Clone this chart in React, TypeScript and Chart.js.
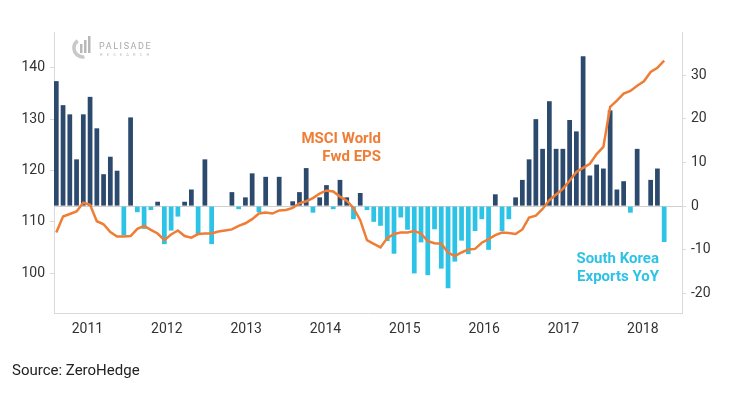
import React, { useEffect, useRef } from 'react';
import { Chart, registerables } from 'chart.js';

Chart.register(...registerables);

// Monthly series, Mar 2011 .. Sep 2018
const START_YEAR = 2011;
const START_MONTH = 3;

const exportsYoY: number[] = [
  // 2011 Mar-Dec
  28.6, 23.1, 21.0, 10.7, 21.0, 25.0, 17.8, 7.3, 11.3, 8.1,
  // 2012
  -6.7, 20.3, -1.4, -5.2, -0.9, 1.0, -8.7, -5.6, -2.4, 1.0, 3.8, -6.4,
  // 2013
  10.7, -8.7, 0.0, 0.0, 3.2, -0.7, 2.0, 7.5, -1.4, 6.7, 0.0, 6.7,
  // 2014
  0.0, 1.1, 3.2, 8.7, -1.5, 2.0, 4.8, -0.7, 6.0, 2.0, -3.0, 3.0,
  // 2015
  -0.9, -3.6, -4.5, -8.0, -10.9, -2.6, -5.4, -15.4, -8.3, -15.8, -5.3, -14.3,
  // 2016
  -18.8, -12.7, -7.9, -11.0, -5.7, -3.0, -10.0, 2.7, -5.7, -3.0, 2.0, 6.0,
  // 2017
  10.7, 19.9, 13.1, 24.0, 13.1, 13.1, 19.7, 17.1, 34.3, 7.0, 9.5, 8.6,
  // 2018 Jan-Sep
  21.9, 3.8, 5.7, -1.5, 13.1, 0.0, 6.0, 8.6, -8.2,
];

const msciFwdEps: number[] = [
  // 2011 Mar-Dec
  107.9, 111.0, 111.5, 112.0, 113.7, 113.3, 110.1, 109.5, 108.0, 107.1,
  // 2012
  107.1, 107.2, 108.6, 109.2, 108.4, 107.7, 106.4, 107.5, 108.3, 107.2, 106.9, 107.6,
  // 2013
  107.7, 107.7, 108.1, 108.3, 108.5, 109.2, 109.7, 110.5, 111.6, 111.8, 111.6, 112.2,
  // 2014
  112.3, 112.7, 113.6, 114.0, 114.6, 115.5, 116.1, 115.9, 114.9, 114.1, 112.7, 110.3,
  // 2015
  106.4, 105.7, 105.0, 106.8, 107.6, 107.9, 107.9, 108.2, 107.7, 106.2, 105.8, 105.7,
  // 2016
  104.0, 103.3, 104.0, 104.6, 104.7, 105.9, 106.6, 107.4, 107.9, 107.8, 107.6, 108.5,
  // 2017
  110.8, 111.2, 112.5, 114.2, 115.3, 116.4, 118.0, 119.7, 120.5, 121.3, 123.2, 124.6,
  // 2018 Jan-Sep
  132.4, 133.6, 135.0, 135.5, 136.5, 137.4, 139.2, 140.0, 141.4,
];

const months: string[] = exportsYoY.map((_, i) => {
  const m = START_MONTH - 1 + i;
  return `${START_YEAR + Math.floor(m / 12)}-${String((m % 12) + 1).padStart(2, '0')}`;
});

const yearLabels: number[] = [2011, 2012, 2013, 2014, 2015, 2016, 2017, 2018];
const leftTicks: number[] = [100, 110, 120, 130, 140];
const rightTicks: number[] = [-20, -10, 0, 10, 20, 30];

const NAVY = '#2c4a6d';
const CYAN = '#2cc3e6';
const ORANGE = '#f07d35';
const AXIS = '#d9d9d9';
const TICK_TEXT = '#333333';

const overlayPlugin = {
  id: 'overlayText',
  afterDraw(chart: any) {
    const { ctx, chartArea } = chart;
    ctx.save();
    // Series annotations
    ctx.textAlign = 'right';
    ctx.textBaseline = 'middle';
    ctx.font = 'bold 15px Roboto';
    ctx.fillStyle = ORANGE;
    ctx.fillText('MSCI World', 381, 139);
    ctx.fillText('Fwd EPS', 381, 157);
    ctx.fillStyle = CYAN;
    ctx.fillText('South Korea', 659, 259);
    ctx.fillText('Exports YoY', 659, 277);

    // Logo
    const cx = chartArea.left + 29;
    const cy = 48;
    ctx.strokeStyle = '#c8c8c8';
    ctx.lineWidth = 3.5;
    ctx.beginPath();
    ctx.arc(cx, cy, 9, Math.PI * 0.45, Math.PI * 1.3);
    ctx.stroke();
    ctx.fillStyle = '#b8b8b8';
    ctx.fillRect(cx - 3, cy - 4, 2.5, 9);
    ctx.fillRect(cx + 1, cy - 8, 2.5, 13);
    ctx.fillRect(cx + 5, cy - 12, 2.5, 17);
    ctx.textAlign = 'left';
    ctx.textBaseline = 'alphabetic';
    ctx.fillStyle = '#a8a8a8';
    ctx.font = '9px Roboto';
    (ctx as any).letterSpacing = '1.6px';
    ctx.fillText('PALISADE', 99, 49);
    ctx.font = '4px Roboto';
    ctx.fillStyle = '#c0c0c0';
    (ctx as any).letterSpacing = '4.2px';
    ctx.fillText('RESEARCH', 100, 56);
    (ctx as any).letterSpacing = '0px';
    ctx.restore();
  },
};

export default function App() {
  const ref = useRef<HTMLCanvasElement | null>(null);

  useEffect(() => {
    if (!ref.current) return;
    Chart.defaults.font.family = 'Roboto';
    const chart = new Chart(ref.current, {
      type: 'bar',
      data: {
        labels: months,
        datasets: [
          {
            type: 'line',
            label: 'MSCI World Fwd EPS',
            data: msciFwdEps.map((v, i) => ({ x: i, y: v })),
            xAxisID: 'x',
            yAxisID: 'yL',
            borderColor: ORANGE,
            borderWidth: 2.5,
            pointRadius: 0,
            tension: 0,
            order: 0,
          } as any,
          {
            type: 'bar',
            label: 'South Korea Exports YoY',
            data: exportsYoY.map((v, i) => ({ x: i, y: v })),
            xAxisID: 'x',
            yAxisID: 'yR',
            backgroundColor: exportsYoY.map((v) => (v >= 0 ? NAVY : CYAN)),
            borderWidth: 0,
            categoryPercentage: 1,
            barPercentage: 0.7,
            order: 1,
          } as any,
        ],
      },
      options: {
        animation: false,
        responsive: false,
        maintainAspectRatio: false,
        layout: { padding: { top: 32, bottom: 0, left: 0, right: 0 } },
        plugins: {
          legend: { display: false },
          tooltip: { enabled: false },
        },
        scales: {
          x: {
            type: 'linear',
            display: false,
            min: -0.34,
            max: 92.64,
            offset: false,
            bounds: 'data',
          },
          years: {
            type: 'linear',
            position: 'bottom',
            min: 2011.078,
            max: 2018.994,
            offset: false,
            bounds: 'data',
            afterBuildTicks: (scale: any) => {
              scale.ticks = yearLabels.map((y) => ({ value: y + 0.5 }));
            },
            afterFit: (scale: any) => {
              scale.height = 86;
            },
            grid: { display: false, drawTicks: false },
            border: { display: true, color: AXIS, width: 1 },
            ticks: {
              autoSkip: false,
              maxRotation: 0,
              padding: 8,
              color: TICK_TEXT,
              font: { size: 14 },
              callback: (v: any) => String(Math.floor(Number(v))),
            },
          },
          yL: {
            type: 'linear',
            position: 'left',
            min: 92.2,
            max: 147,
            bounds: 'data',
            afterBuildTicks: (scale: any) => {
              scale.ticks = leftTicks.map((v) => ({ value: v }));
            },
            afterFit: (scale: any) => {
              scale.width = 54;
            },
            grid: { drawOnChartArea: false, drawTicks: true, tickLength: 4, color: AXIS },
            border: { display: true, color: AXIS, width: 1 },
            ticks: {
              padding: 5,
              color: TICK_TEXT,
              font: { size: 14 },
              callback: (v: any) => String(v),
            },
          },
          yR: {
            type: 'linear',
            position: 'right',
            min: -24.46,
            max: 39.84,
            bounds: 'data',
            afterBuildTicks: (scale: any) => {
              scale.ticks = rightTicks.map((v) => ({ value: v }));
            },
            afterFit: (scale: any) => {
              scale.width = 50;
            },
            grid: {
              drawOnChartArea: true,
              drawTicks: true,
              tickLength: 4,
              color: (c: any) => (c.tick && c.tick.value === 0 ? '#cfcfcf' : 'rgba(0,0,0,0)'),
              tickColor: AXIS,
            },
            border: { display: true, color: AXIS, width: 1 },
            ticks: {
              padding: 5,
              color: TICK_TEXT,
              font: { size: 14 },
              callback: (v: any) => String(v),
            },
          },
        },
      } as any,
      plugins: [overlayPlugin],
    });
    return () => chart.destroy();
  }, []);

  return (
    <div style={{ position: 'absolute', left: 0, top: 0, width: 732, height: 399, background: '#ffffff' }}>
      <canvas ref={ref} width={732} height={399} style={{ display: 'block' }} />
      <div
        style={{
          position: 'absolute',
          left: 12,
          top: 361,
          fontFamily: 'Roboto',
          fontSize: 15,
          color: '#222222',
          lineHeight: '18px',
        }}
      >
        Source: ZeroHedge
      </div>
    </div>
  );
}
